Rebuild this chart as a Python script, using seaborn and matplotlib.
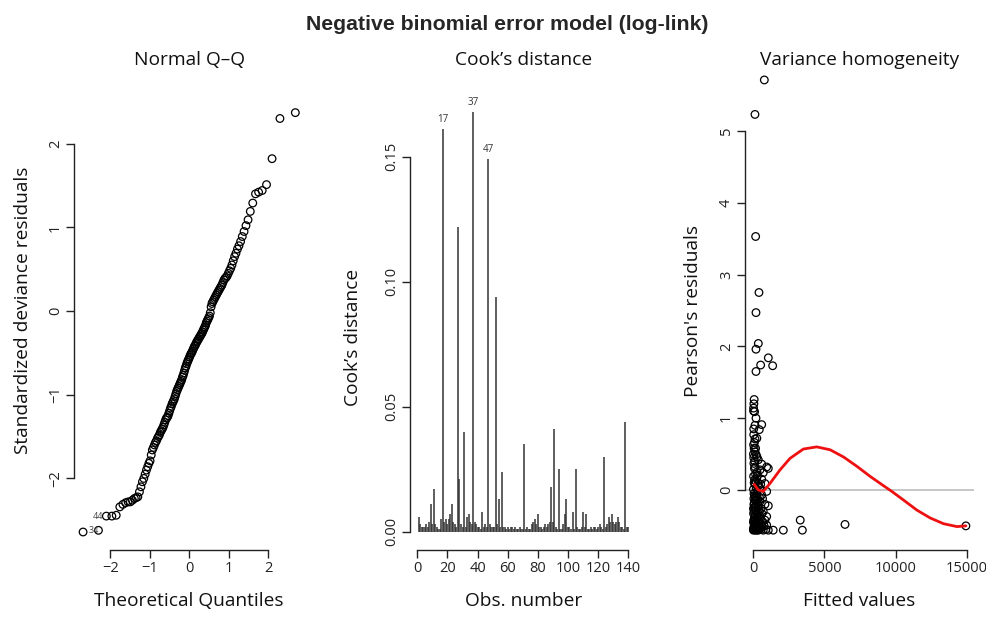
import matplotlib
matplotlib.use("Agg")
import matplotlib.pyplot as plt
import seaborn as sns
from statistics import NormalDist

# sorted standardized deviance residuals (Q-Q panel)
dev_resid = [-2.64, -2.62, -2.45, -2.45, -2.44, -2.34, -2.31, -2.29, -2.28, -2.28,
             -2.26, -2.24, -2.23, -2.22, -2.16, -2.10, -2.04, -2.00, -1.95, -1.90,
             -1.86, -1.82, -1.79, -1.72, -1.66, -1.63, -1.60, -1.57, -1.55, -1.52,
             -1.50, -1.48, -1.45, -1.43, -1.41, -1.39, -1.36, -1.33, -1.30, -1.28,
             -1.27, -1.25, -1.22, -1.19, -1.16, -1.14, -1.11, -1.09, -1.07, -1.05,
             -1.02, -0.99, -0.96, -0.94, -0.92, -0.90, -0.88, -0.86, -0.84, -0.82,
             -0.79, -0.77, -0.74, -0.71, -0.68, -0.66, -0.63, -0.61, -0.59, -0.57,
             -0.55, -0.53, -0.51, -0.50, -0.48, -0.46, -0.44, -0.42, -0.41, -0.39,
             -0.37, -0.36, -0.34, -0.33, -0.31, -0.30, -0.28, -0.27, -0.25, -0.23,
             -0.21, -0.19, -0.17, -0.14, -0.12, -0.10, -0.08, -0.06, -0.02, 0.05,
             0.09, 0.11, 0.13, 0.15, 0.17, 0.19, 0.21, 0.23, 0.25, 0.27,
             0.29, 0.31, 0.34, 0.37, 0.39, 0.40, 0.42, 0.45, 0.48, 0.51,
             0.55, 0.60, 0.65, 0.69, 0.74, 0.78, 0.83, 0.89, 0.95, 1.02,
             1.09, 1.19, 1.29, 1.40, 1.42, 1.44, 1.51, 1.82, 2.30, 2.37]

# Cook's distance per observation (1..140)
cooks_d = [0.006, 0.003, 0.002, 0.002, 0.002, 0.003, 0.002, 0.004, 0.011, 0.003,
           0.017, 0.003, 0.002, 0.001, 0.001, 0.005, 0.161, 0.004, 0.005, 0.003,
           0.005, 0.007, 0.011, 0.004, 0.003, 0.002, 0.122, 0.021, 0.003, 0.002,
           0.040, 0.002, 0.006, 0.007, 0.004, 0.003, 0.168, 0.004, 0.003, 0.002,
           0.002, 0.001, 0.008, 0.002, 0.003, 0.002, 0.149, 0.003, 0.002, 0.002,
           0.002, 0.094, 0.003, 0.013, 0.002, 0.024, 0.002, 0.002, 0.001, 0.002,
           0.001, 0.002, 0.002, 0.001, 0.002, 0.001, 0.001, 0.002, 0.001, 0.001,
           0.035, 0.001, 0.002, 0.001, 0.001, 0.003, 0.004, 0.005, 0.003, 0.007,
           0.002, 0.002, 0.001, 0.002, 0.003, 0.002, 0.003, 0.004, 0.018, 0.004,
           0.041, 0.002, 0.001, 0.025, 0.001, 0.001, 0.003, 0.007, 0.013, 0.002,
           0.002, 0.001, 0.008, 0.001, 0.025, 0.002, 0.001, 0.001, 0.002, 0.008,
           0.002, 0.007, 0.001, 0.001, 0.002, 0.001, 0.002, 0.002, 0.001, 0.002,
           0.003, 0.002, 0.001, 0.030, 0.002, 0.003, 0.006, 0.004, 0.007, 0.004,
           0.003, 0.004, 0.006, 0.004, 0.002, 0.002, 0.001, 0.044, 0.002, 0.002]
cook_labels = {17: "17", 37: "37", 47: "47"}

# fitted values vs Pearson residuals
fitted_vals = [775, 117, 164, 399, 188, 352, 188, 1056, 516, 1361,
               188, 60, 20, 90, 190, 120, 590, 420, 30, 120,
               20, 60, 120, 200, 260, 40, 350, 590, 940, 1055,
               120, 470, 700, 260, 20, 240, 590, 190, 350, 820,
               120, 350, 10, 240, 590, 940,
               120, 470, 820, 1055, 10, 350, 700, 120, 470, 940,
               30, 350, 820, 120, 590, 940, 10, 350, 700, 1055,
               1400, 2110, 3300, 3450, 6450, 14950,
               50, 150, 80, 200, 300, 60, 250, 160, 400, 90,
               280, 30, 200, 450, 100, 300, 550, 150, 250, 60,
               380, 500, 650, 180, 80, 300, 20, 420, 150, 550,
               40, 280, 650, 100, 200, 450, 60, 300, 160, 80,
               30, 100, 20, 40, 80, 160, 30, 250,
               10, 120, 230, 330, 510, 70, 190, 360, 40, 260,
               610, 760, 880, 20, 130, 230, 430, 90, 520, 10]
pearson_res = [5.71, 5.23, 3.53, 2.75, 2.47, 2.04, 1.96, 1.84, 1.74, 1.73,
               1.65, 1.26, 1.14, 1.09, 1.00, 0.90, 0.91, 0.84, 0.77, 0.71,
               0.63, 0.58, 0.53, 0.49, 0.46, 0.37, 0.42, 0.36, 0.32, 0.30,
               0.32, 0.28, 0.24, 0.25, 0.19, 0.16, 0.15, 0.12, 0.09, 0.09,
               0.08, 0.06, 0.01, -0.05, -0.07, -0.02,
               -0.14, -0.16, -0.20, -0.22, -0.26, -0.28, -0.30, -0.35, -0.37, -0.37,
               -0.42, -0.44, -0.42, -0.49, -0.51, -0.49, -0.56, -0.56, -0.56, -0.56,
               -0.56, -0.56, -0.42, -0.56, -0.48, -0.50,
               -0.05, -0.10, -0.18, -0.22, -0.12, -0.30, -0.33, -0.40, -0.45, -0.47,
               -0.50, -0.52, -0.54, -0.54, -0.55, -0.55, -0.55, -0.56, -0.56, -0.53,
               -0.52, -0.47, -0.44, -0.45, -0.38, -0.40, -0.33, -0.30, -0.25, -0.26,
               -0.20, -0.18, -0.12, -0.08, 0.02, 0.03, 0.10, 0.20, 0.22, 0.30,
               0.45, 0.40, 1.10, 1.20, 0.66, 0.58, 0.85, 0.72,
               -0.45, -0.43, -0.48, -0.37, -0.40, -0.24, -0.30, -0.22, -0.12, -0.02,
               -0.33, -0.50, -0.55, -0.55, -0.52, -0.15, -0.10, 0.14, 0.08, 0.50]

# smoother through the residuals (red line)
smooth_x = [60, 350, 700, 1170, 1880, 2580, 3520, 4460, 5400, 6340,
            7280, 8210, 9150, 9740, 10560, 11500, 12440, 13380, 14320, 14950]
smooth_y = [0.08, 0.00, -0.02, 0.09, 0.28, 0.44, 0.57, 0.60, 0.56, 0.46,
            0.33, 0.19, 0.06, -0.02, -0.14, -0.28, -0.39, -0.47, -0.51, -0.50]

sns.set_style("ticks")
plt.rcParams['font.family'] = ['Open Sans', 'DejaVu Sans']
plt.rcParams['axes.unicode_minus'] = True

W, H = 986, 617
fig = plt.figure(figsize=(W / 100, H / 100), dpi=100)


def add_panel(left, right, top, bottom):
    return fig.add_axes([left / W, 1 - bottom / H, (right - left) / W, (bottom - top) / H])


def r_style(ax, xb, yb):
    sns.despine(ax=ax)
    ax.spines['left'].set_bounds(*yb)
    ax.spines['bottom'].set_bounds(*xb)
    for s in ('left', 'bottom'):
        ax.spines[s].set_linewidth(1.0)
        ax.spines[s].set_color('#222222')
    ax.tick_params(length=6, width=1.0, color='#222222', labelsize=10.5, pad=2,
                   labelcolor='#222222')
    for lab in ax.get_yticklabels():
        lab.set_rotation(90)
        lab.set_va('center')


pt_kw = dict(marker='o', s=30, facecolors='none', edgecolor='black', linewidth=0.9)
txt_kw = dict(fontsize=13.8, color='#111111')

# ---- Normal Q-Q
ax1 = add_panel(74, 304, 62, 550)
n = len(dev_resid)
theo_q = [NormalDist().inv_cdf((i - 0.5) / n) for i in range(1, n + 1)]
sns.scatterplot(x=theo_q, y=dev_resid, ax=ax1, **pt_kw)
ax1.set_xlim(-2.92, 2.91)
ax1.set_ylim(-2.855, 2.975)
ax1.set_xticks([-2, -1, 0, 1, 2])
ax1.set_yticks([-2, -1, 0, 1, 2])
r_style(ax1, (-2, 2), (-2, 2))
ax1.text(theo_q[2] - 0.07, dev_resid[2], "44", ha='right', va='center', fontsize=6.5, color='#444444')
ax1.text(theo_q[1] + 0.02, dev_resid[1], "34", ha='right', va='center', fontsize=6.5, color='#444444')

# ---- Cook's distance
ax2 = add_panel(410, 637, 62, 550)
obs = list(range(1, len(cooks_d) + 1))
ax2.vlines(obs, 0, cooks_d, color='#333333', linewidth=1.1)
ax2.set_xlim(-4.84, 145.8)
ax2.set_ylim(-0.00732, 0.1879)
ax2.set_xticks(range(0, 141, 20))
ax2.set_yticks([0, 0.05, 0.10, 0.15])
ax2.set_yticklabels(["0.00", "0.05", "0.10", "0.15"])
r_style(ax2, (0, 140), (0, 0.15))
for k, lab in cook_labels.items():
    ax2.text(k, cooks_d[k - 1] + 0.0015, lab, ha='center', va='bottom', fontsize=7, color='#333333')

# ---- Variance homogeneity
ax3 = add_panel(745, 974, 62, 550)
ax3.axhline(0, color='#bdbdbd', linewidth=1.2, zorder=0)
sns.scatterplot(x=fitted_vals, y=pearson_res, ax=ax3, **pt_kw)
sns.lineplot(x=smooth_x, y=smooth_y, ax=ax3, color='#ee1111', linewidth=2,
             sort=False, estimator=None)
ax3.set_xlim(-584, 15520)
ax3.set_ylim(-0.836, 5.96)
ax3.set_xticks([0, 5000, 10000, 15000])
ax3.set_yticks([0, 1, 2, 3, 4, 5])
r_style(ax3, (0, 15000), (0, 5))

# titles and labels (R-like placement)
fig.text(507 / W, 1 - 25 / H, "Negative binomial error model (log-link)",
         ha='center', va='center', fontsize=15.3, fontweight='bold',
         family=['Liberation Sans', 'DejaVu Sans'])
for cx, t in [(189, "Normal Q\u2013Q"), (523.5, "Cook\u2019s distance"), (859.5, "Variance homogeneity")]:
    fig.text(cx / W, 1 - 60 / H, t, ha='center', va='center', **txt_kw)
for cx, t in [(189, "Theoretical Quantiles"), (523.5, "Obs. number"), (859.5, "Fitted values")]:
    fig.text(cx / W, 1 - 601 / H, t, ha='center', va='center', **txt_kw)
for cx, cy, t in [(23, 310, "Standardized deviance residuals"), (353, 337, "Cook\u2019s distance"),
                  (693, 311, "Pearson's residuals")]:
    fig.text(cx / W, 1 - cy / H, t, ha='center', va='center', rotation=90, **txt_kw)

fig.savefig("out.png", dpi=100)
